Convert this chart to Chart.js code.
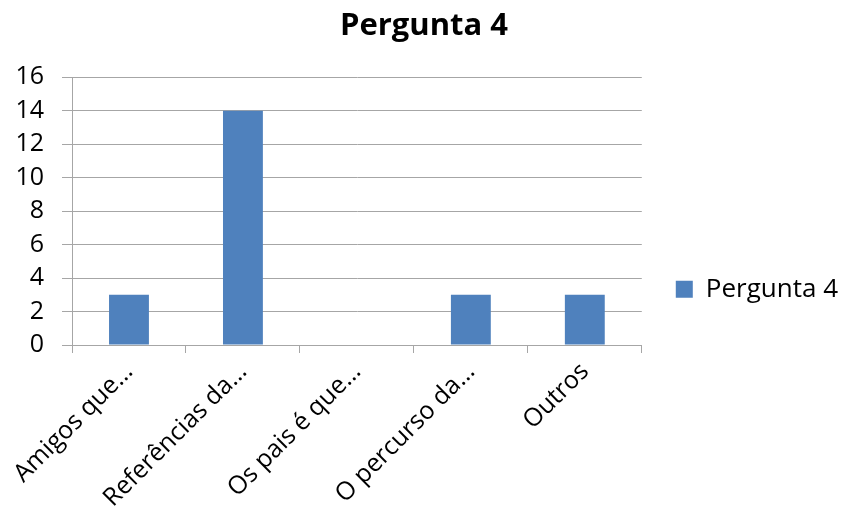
<!DOCTYPE html>
<html>
<head>
<meta charset="utf-8">
<script src="https://cdn.jsdelivr.net/npm/chart.js@4.4.1/dist/chart.umd.min.js"></script>
<style>
  html, body { margin: 0; padding: 0; background: #fff; }
  #wrap { width: 848px; height: 508px; position: relative; }
</style>
</head>
<body>
<div id="wrap"><canvas id="chart"></canvas></div>
<script>
// Data
const categories = ['Amigos que…', 'Referências da…', 'Os pais é que…', 'O percurso da…', 'Outros'];
const seriesName = 'Pergunta 4';
const seriesValues = [3, 14, 0, 3, 3];
const yTicks = [0, 2, 4, 6, 8, 10, 12, 14, 16];

const FONT = '"Open Sans", sans-serif';
const gridColor = '#a6a6a6';

const ctx = document.getElementById('chart').getContext('2d');
new Chart(ctx, {
  type: 'bar',
  data: {
    labels: categories,
    datasets: [{
      label: seriesName,
      data: seriesValues,
      backgroundColor: '#4f81bd',
      borderWidth: 0,
      categoryPercentage: 1,
      barPercentage: 0.35
    }]
  },
  options: {
    responsive: true,
    maintainAspectRatio: false,
    animation: false,
    layout: { padding: { top: 8, right: 0, left: 0, bottom: 0 } },
    plugins: {
      title: {
        display: true,
        text: 'Pergunta 4',
        color: '#000',
        font: { family: FONT, size: 31, weight: 'bold' },
        padding: { top: 0, bottom: 32 }
      },
      legend: {
        display: true,
        position: 'right',
        // empty legend title only pushes the entry down, as in the reference
        title: { display: true, text: '', font: { size: 12 }, padding: { top: 48, bottom: 0 } },
        labels: {
          color: '#000',
          font: { family: FONT, size: 26 },
          boxWidth: 17,
          boxHeight: 17,
          padding: 34
        }
      },
      tooltip: { enabled: false }
    },
    scales: {
      x: {
        grid: {
          offset: true,
          drawOnChartArea: false,
          drawTicks: true,
          tickLength: 8,
          color: gridColor
        },
        border: { color: gridColor },
        ticks: {
          color: '#000',
          font: { family: FONT, size: 25 },
          minRotation: 45,
          maxRotation: 45,
          autoSkip: false,
          padding: 4
        },
        afterFit(scale) { scale.height = 163; }
      },
      y: {
        min: 0,
        max: 16,
        afterBuildTicks(scale) { scale.ticks = yTicks.map(v => ({ value: v })); },
        grid: {
          color: gridColor,
          tickLength: 10
        },
        border: { color: gridColor },
        ticks: {
          color: '#000',
          font: { family: FONT, size: 25 },
          padding: 18
        },
        afterFit(scale) { scale.width = 72; }
      }
    }
  }
});
</script>
</body>
</html>
